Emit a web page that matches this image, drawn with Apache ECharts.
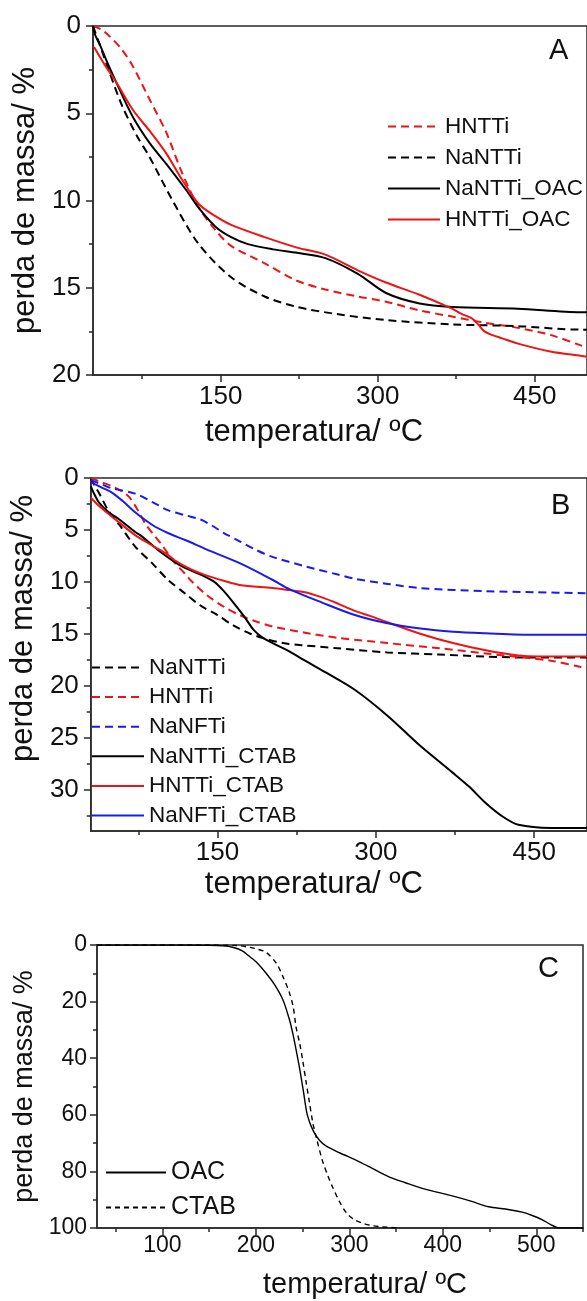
<!DOCTYPE html>
<html>
<head>
<meta charset="utf-8">
<script src="https://cdn.jsdelivr.net/npm/echarts@6/dist/echarts.min.js"></script>
<style>
html,body{margin:0;padding:0;background:#fff;}
#chart{width:587px;height:1301px;}
</style>
</head>
<body>
<div id="chart"></div>
<script>
// ---------- Panel A data: [temperatura ºC, perda de massa %] ----------
const A_HNTTi = [[28,0],[36,0.2],[44,0.6],[55,1.3],[66,2.3],[82,4.2],[98,6.1],[113,8.4],[129,10.4],[145,11.7],[160,12.6],[192,13.6],[223,14.6],[250,15.1],[281,15.5],[308,15.8],[340,16.3],[371,16.65],[402,17.0],[434,17.3],[465,17.7],[494,18.3],[500,18.4]];
const A_NaNTTi = [[28,0],[34,1.0],[44,2.7],[56,4.6],[70,6.3],[82,7.5],[104,10.0],[129,12.5],[160,14.4],[192,15.5],[223,16.1],[260,16.5],[308,16.85],[371,17.1],[434,17.2],[494,17.4],[500,17.4]];
const A_NaNTTi_OAC = [[28,0],[30,0.5],[34,1.0],[41,2.0],[50,3.2],[66,5.2],[82,6.7],[98,7.9],[117,9.4],[130,10.5],[145,11.5],[160,12.1],[176,12.5],[200,12.8],[223,13.0],[250,13.3],[281,14.2],[308,15.3],[340,15.9],[371,16.1],[434,16.2],[494,16.4],[500,16.4]];
const A_HNTTi_OAC = [[29,1.2],[40,2.3],[50,3.2],[66,4.8],[82,6.0],[98,7.3],[113,8.8],[129,10.2],[145,10.9],[160,11.4],[192,12.1],[223,12.7],[250,13.1],[281,14.0],[308,14.7],[340,15.4],[371,16.2],[380,16.5],[390,16.75],[396,17.1],[402,17.5],[409,17.7],[419,17.9],[434,18.2],[465,18.65],[494,18.9],[500,18.95]];

// ---------- Panel B data ----------
const B_NaNTTi = [[30,0],[34,0.8],[38,1.5],[47,3.2],[57,4.5],[72,6.6],[88,8.2],[103,9.8],[119,11.1],[134,12.3],[150,13.2],[165,14.2],[181,15.0],[196,15.5],[212,15.9],[230,16.1],[264,16.4],[311,16.8],[360,17.0],[404,17.2],[450,17.3],[500,17.3]];
const B_HNTTi = [[30,0],[40,0.4],[50,0.8],[58,1.2],[66,1.8],[74,3.0],[81,4.3],[89,5.4],[97,6.4],[109,8.1],[119,9.2],[125,9.9],[140,11.3],[156,12.4],[171,13.2],[186,13.8],[202,14.3],[233,14.9],[264,15.4],[311,15.9],[360,16.4],[404,16.9],[440,17.3],[466,17.6],[494,18.2],[500,18.3]];
const B_NaNFTi = [[30,0.2],[40,0.6],[50,1.0],[72,1.5],[88,2.3],[103,3.1],[120,3.6],[134,4.0],[145,4.6],[156,5.3],[171,6.1],[186,6.9],[202,7.6],[233,8.5],[264,9.3],[280,9.7],[311,10.2],[342,10.6],[404,10.9],[450,11.0],[500,11.1]];
const B_NaNTTi_CTAB = [[30,0.8],[33,1.5],[38,2.4],[47,3.3],[57,4.0],[72,5.2],[78,5.6],[97,7.2],[116,8.5],[134,9.3],[147,10.0],[156,10.9],[165,12.0],[175,13.3],[184,14.6],[193,15.4],[206,16.1],[218,16.7],[233,17.6],[252,18.7],[280,20.4],[311,22.9],[342,25.8],[373,28.4],[388,29.7],[404,31.3],[420,32.6],[435,33.4],[466,33.7],[500,33.7]];
const B_HNTTi_CTAB = [[30,1.9],[40,2.9],[57,4.3],[72,5.5],[88,6.5],[103,7.4],[109,7.9],[125,8.8],[140,9.4],[156,9.9],[171,10.3],[202,10.6],[218,10.8],[233,11.0],[249,11.5],[264,12.1],[280,12.8],[295,13.3],[311,13.9],[342,15.0],[373,15.9],[404,16.6],[435,17.1],[454,17.2],[500,17.2]];
const B_NaNFTi_CTAB = [[30,0.4],[40,0.9],[50,1.4],[60,2.2],[72,3.3],[88,4.5],[103,5.3],[120,6.0],[140,6.9],[171,8.2],[202,9.8],[218,10.7],[249,12.0],[280,13.2],[311,14.0],[342,14.5],[373,14.8],[404,14.95],[450,15.1],[500,15.1]];

// ---------- Panel C data ----------
const C_OAC = [[30,0],[100,0],[150,0.1],[165,0.3],[175,0.8],[185,2.0],[193,4.0],[202,6.5],[211,10],[220,14],[229,19.4],[236,26.5],[240,32],[243,37],[247,44],[251,52],[255,60],[261,65.4],[268,69],[275,71],[290,73.5],[307,76],[325,79],[343,82],[360,84],[378,86],[396,87.5],[414,89],[430,90.5],[449,92.5],[467,93.3],[485,94.4],[495,95.5],[506,97],[515,98.7],[524,100],[550,100]];
const C_CTAB = [[30,0],[150,0],[180,0.2],[193,0.8],[202,1.5],[211,2.6],[222,6.5],[229,11.2],[236,17],[240,22],[243,29],[247,35],[250,40.6],[254,49],[257,55],[261,63],[265,68.5],[271,76],[277,81.5],[282,85.5],[290,91],[297,94.7],[305,97],[314,98.3],[325,99.2],[335,99.6],[352,100]];

// ---------- tick values ----------
const A_xMajor = [150,300,450], A_xMinor = [75,225,375];
const A_yMajor = [0,5,10,15,20], A_yMinor = [2.5,7.5,12.5,17.5];
const B_xMajor = [150,300,450], B_xMinor = [75,225,375];
const B_yMajor = [0,5,10,15,20,25,30], B_yMinor = [2.5,7.5,12.5,17.5,22.5,27.5,32.5];
const C_xMajor = [100,200,300,400,500], C_xMinor = [50,150,250,350,450,550];
const C_yMajor = [0,20,40,60,80,100], C_yMinor = [10,30,50,70,90];

const FONT = "'Liberation Sans', Arial, sans-serif";
const AX = '#2a2a2a';
const RED = '#ec1414', BLUE = '#1a1aee', BLACK = '#000000';

function xAxes(grid, min, max, majors, minors, fs, margin, name, gap, pad, nfs) {
  return [
    {type:'value', gridIndex:grid, position:'bottom', min, max,
     axisLine:{show:true, onZero:false, lineStyle:{color:AX, width:1.5}},
     axisTick:{show:true, length:7, customValues:majors, lineStyle:{color:AX, width:1.5}},
     axisLabel:{customValues:majors, fontSize:fs, fontFamily:FONT, color:'#111', margin},
     splitLine:{show:false},
     name, nameLocation:'middle', nameGap:gap,
     nameTextStyle:{fontSize:nfs, fontFamily:FONT, color:'#111', padding:pad}},
    {type:'value', gridIndex:grid, position:'bottom', min, max,
     axisLine:{show:false, onZero:false},
     axisTick:{show:true, length:4, customValues:minors, lineStyle:{color:AX, width:1.5}},
     axisLabel:{show:false}, splitLine:{show:false}}
  ];
}
function yAxes(grid, min, max, majors, minors, fs, margin, name, gap, pad, nfs) {
  return [
    {type:'value', gridIndex:grid, position:'left', inverse:true, min, max,
     axisLine:{show:true, onZero:false, lineStyle:{color:AX, width:1.5}},
     axisTick:{show:true, length:7, customValues:majors, lineStyle:{color:AX, width:1.5}},
     axisLabel:{customValues:majors, fontSize:fs, fontFamily:FONT, color:'#111', margin},
     splitLine:{show:false},
     name, nameLocation:'middle', nameGap:gap, nameRotate:90,
     nameTextStyle:{fontSize:nfs, fontFamily:FONT, color:'#111', padding:pad}},
    {type:'value', gridIndex:grid, position:'left', inverse:true, min, max,
     axisLine:{show:false, onZero:false},
     axisTick:{show:true, length:4, customValues:minors, lineStyle:{color:AX, width:1.5}},
     axisLabel:{show:false}, splitLine:{show:false}}
  ];
}

const xAxis = [].concat(
  xAxes(0, 28, 500, A_xMajor, A_xMinor, 26, 9, 'temperatura/ ºC', 42, [0,52,0,0], 31),
  xAxes(1, 30, 500, B_xMajor, B_xMinor, 26, 9, 'temperatura/ ºC', 38, [0,50,0,0], 31),
  xAxes(2, 30, 550, C_xMajor, C_xMinor, 23, 6, 'temperatura/ ºC', 42, [0,0,0,50], 29)
);
const yAxis = [].concat(
  yAxes(0, 0, 20, A_yMajor, A_yMinor, 26, 12, 'perda de massa/ %', 46, [0,0,0,0], 31),
  yAxes(1, 0, 34, B_yMajor, B_yMinor, 26, 12, 'perda de massa/ %', 43, [0,0,0,52], 31),
  yAxes(2, 0, 100, C_yMajor, C_yMinor, 23, 10, 'perda de massa/ %', 49, [0,0,0,0], 27)
);

function line(name, data, xi, yi, color, dash, width) {
  return {type:'line', name, data, xAxisIndex:xi, yAxisIndex:yi,
    showSymbol:false, symbol:'none', smooth:0.3,
    lineStyle:{color, width, type:dash || 'solid'}, itemStyle:{color}};
}

const series = [
  line('HNTTi', A_HNTTi, 0, 0, RED, [8,5], 2),
  line('NaNTTi', A_NaNTTi, 0, 0, BLACK, [8,5], 2),
  line('NaNTTi_OAC', A_NaNTTi_OAC, 0, 0, BLACK, null, 2),
  line('HNTTi_OAC', A_HNTTi_OAC, 0, 0, RED, null, 2),
  line('NaNTTi', B_NaNTTi, 2, 2, BLACK, [8,5], 2),
  line('HNTTi', B_HNTTi, 2, 2, RED, [8,5], 2),
  line('NaNFTi', B_NaNFTi, 2, 2, BLUE, [8,5], 2),
  line('NaNTTi_CTAB', B_NaNTTi_CTAB, 2, 2, BLACK, null, 2),
  line('HNTTi_CTAB', B_HNTTi_CTAB, 2, 2, RED, null, 2),
  line('NaNFTi_CTAB', B_NaNFTi_CTAB, 2, 2, BLUE, null, 2),
  line('OAC', C_OAC, 4, 4, BLACK, null, 1.4),
  line('CTAB', C_CTAB, 4, 4, BLACK, [5,4], 1.4)
];

const legendBase = {orient:'vertical', padding:0, itemHeight:14, selectedMode:false,
  itemStyle:{color:'rgba(0,0,0,0)', borderWidth:0, opacity:0}};

const option = {
  backgroundColor:'#ffffff',
  animation:false,
  grid:[
    {left:93, top:26, width:500, height:349, show:true, borderColor:AX, borderWidth:1.5, backgroundColor:'transparent'},
    {left:88, top:478, width:505, height:353, show:true, borderColor:AX, borderWidth:1.5, backgroundColor:'transparent'},
    {left:97, top:945, width:486, height:283, show:true, borderColor:AX, borderWidth:1.5, backgroundColor:'transparent'}
  ],
  xAxis, yAxis, series,
  title:[
    {text:'A', left:549, top:36, padding:0, textStyle:{fontSize:29, fontWeight:'normal', fontFamily:FONT, color:'#111'}},
    {text:'B', left:551, top:491, padding:0, textStyle:{fontSize:29, fontWeight:'normal', fontFamily:FONT, color:'#111'}},
    {text:'C', left:538, top:954, padding:0, textStyle:{fontSize:29, fontWeight:'normal', fontFamily:FONT, color:'#111'}}
  ],
  legend:[
    Object.assign({}, legendBase, {left:387, top:115, itemWidth:52, itemGap:8,
      data:['HNTTi','NaNTTi','NaNTTi_OAC','HNTTi_OAC'],
      textStyle:{fontFamily:FONT, color:'#111', fontSize:22.5}}),
    Object.assign({}, legendBase, {left:91, top:656, itemWidth:52, itemGap:6.6,
      data:['NaNTTi','HNTTi','NaNFTi','NaNTTi_CTAB','HNTTi_CTAB','NaNFTi_CTAB'],
      textStyle:{fontFamily:FONT, color:'#111', fontSize:22.5}}),
    Object.assign({}, legendBase, {left:105, top:1160, itemWidth:60, itemGap:10,
      data:['OAC','CTAB'],
      textStyle:{fontFamily:FONT, color:'#111', fontSize:25}})
  ]
};

const chart = echarts.init(document.getElementById('chart'), null, {renderer:'canvas'});
chart.setOption(option);
</script>
</body>
</html>
